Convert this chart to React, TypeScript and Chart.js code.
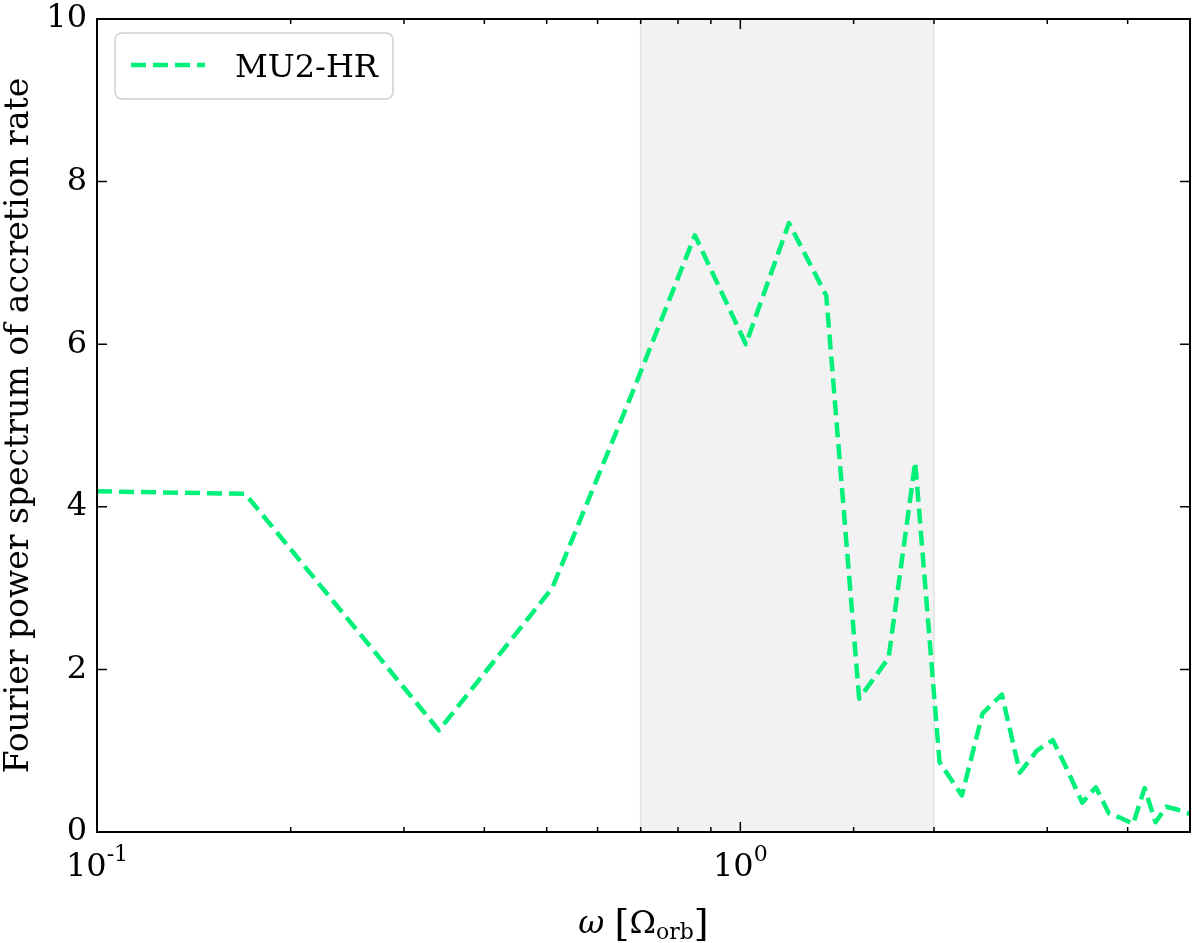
import React, { useEffect, useRef } from "react";
import { Chart, registerables } from "chart.js";

Chart.register(...registerables);

// ---- data ----
const OMEGA = [0.1, 0.17, 0.34, 0.51, 0.68, 0.85, 1.02, 1.19, 1.36, 1.53, 1.7, 1.87, 2.04, 2.21, 2.38, 2.55, 2.72, 2.89, 3.06, 3.23, 3.4, 3.57, 3.74, 3.91, 4.08, 4.25, 4.42, 4.59, 4.76, 4.93, 5.1];
const POWER = [4.19, 4.16, 1.25, 3.0, 5.41, 7.34, 6.0, 7.49, 6.6, 1.64, 2.14, 4.55, 0.86, 0.45, 1.46, 1.69, 0.73, 1.0, 1.13, 0.75, 0.36, 0.55, 0.23, 0.17, 0.1, 0.54, 0.12, 0.31, 0.28, 0.24, 0.2];
const SERIES_LABEL = "MU2-HR";
const BAND = [0.7, 2.0];
const X_MIN = 0.1;
const X_MAX = 5;
const Y_MIN = 0;
const Y_MAX = 10;
const Y_TICKS = [0, 2, 4, 6, 8, 10];
const X_LABELED = [0.1, 1];
const X_LABEL_BASE = ["10", "10"];
const X_LABEL_EXP = ["-1", "0"];
const Y_TITLE = "Fourier power spectrum of accretion rate";

const FAMILY = '"DejaVu Serif", serif';
const FS = 32;
const LINE_COLOR = "#00f07a";

const decorPlugin = {
  id: "decor",
  beforeDatasetsDraw(chart: any) {
    const { ctx, chartArea: a, scales } = chart;
    const x = scales.x;
    const x0 = x.getPixelForValue(BAND[0]);
    const x1 = x.getPixelForValue(BAND[1]);
    ctx.save();
    ctx.fillStyle = "#f2f2f2";
    ctx.fillRect(x0, a.top, x1 - x0, a.bottom - a.top);
    ctx.strokeStyle = "#e2e2e2";
    ctx.lineWidth = 1.5;
    ctx.beginPath();
    ctx.moveTo(x0, a.top);
    ctx.lineTo(x0, a.bottom);
    ctx.moveTo(x1, a.top);
    ctx.lineTo(x1, a.bottom);
    ctx.stroke();
    ctx.restore();
  },
  afterDraw(chart: any) {
    const { ctx, chartArea: a, scales } = chart;
    const x = scales.x;
    const y = scales.y;
    ctx.save();
    // ticks (inward, all sides)
    ctx.strokeStyle = "#000";
    ctx.lineWidth = 1.5;
    ctx.beginPath();
    const xt: number[] = (x.ticks || []).map((t: any) => t.value);
    xt.forEach((v) => {
      if (v < X_MIN - 1e-9 || v > X_MAX + 1e-9) return;
      const px = x.getPixelForValue(v);
      const lg = Math.log10(v);
      const major = Math.abs(lg - Math.round(lg)) < 1e-6;
      const len = major ? 10 : 5;
      ctx.moveTo(px, a.bottom);
      ctx.lineTo(px, a.bottom - len);
      ctx.moveTo(px, a.top);
      ctx.lineTo(px, a.top + len);
    });
    Y_TICKS.forEach((v) => {
      const py = y.getPixelForValue(v);
      ctx.moveTo(a.left, py);
      ctx.lineTo(a.left + 10, py);
      ctx.moveTo(a.right, py);
      ctx.lineTo(a.right - 10, py);
    });
    ctx.stroke();
    // frame
    ctx.lineWidth = 2;
    ctx.strokeRect(a.left, a.top, a.right - a.left, a.bottom - a.top);

    // x tick labels with superscripts
    ctx.fillStyle = "#000";
    ctx.textBaseline = "alphabetic";
    ctx.textAlign = "left";
    X_LABELED.forEach((v, i) => {
      const px = x.getPixelForValue(v);
      ctx.font = `${FS}px ${FAMILY}`;
      const wb = ctx.measureText(X_LABEL_BASE[i]).width;
      ctx.font = `${Math.round(FS * 0.68)}px ${FAMILY}`;
      const we = ctx.measureText(X_LABEL_EXP[i]).width;
      const start = px - (wb + we) / 2;
      ctx.font = `${FS}px ${FAMILY}`;
      ctx.fillText(X_LABEL_BASE[i], start, a.bottom + 44);
      ctx.font = `${Math.round(FS * 0.68)}px ${FAMILY}`;
      ctx.fillText(X_LABEL_EXP[i], start + wb, a.bottom + 29);
    });

    // x title: ω [Ω_orb]
    const parts = [
      { t: "ω", f: `italic ${FS}px ${FAMILY}`, dy: 0 },
      { t: " ", f: `${FS}px ${FAMILY}`, dy: 0 },
      { t: "[", f: `${FS + 6}px ${FAMILY}`, dy: 3 },
      { t: "Ω", f: `${FS}px ${FAMILY}`, dy: 0 },
      { t: "orb", f: `${Math.round(FS * 0.68)}px ${FAMILY}`, dy: 6 },
      { t: "]", f: `${FS + 6}px ${FAMILY}`, dy: 3 },
    ];
    let total = 0;
    const widths = parts.map((p) => {
      ctx.font = p.f;
      const w = ctx.measureText(p.t).width;
      total += w;
      return w;
    });
    let cx = (a.left + a.right) / 2 - total / 2;
    const base = 933;
    parts.forEach((p, i) => {
      ctx.font = p.f;
      ctx.fillText(p.t, cx, base + p.dy);
      cx += widths[i];
    });

    // legend
    const lx = 115, ly = 33, lw = 278, lh = 66;
    ctx.beginPath();
    (ctx as any).roundRect(lx, ly, lw, lh, 7);
    ctx.fillStyle = "rgba(255,255,255,0.8)";
    ctx.fill();
    ctx.strokeStyle = "#d0d0d0";
    ctx.lineWidth = 1.5;
    ctx.stroke();
    const ds = chart.data.datasets[0];
    ctx.beginPath();
    ctx.strokeStyle = ds.borderColor;
    ctx.lineWidth = ds.borderWidth;
    ctx.setLineDash(ds.borderDash);
    ctx.moveTo(131, 65);
    ctx.lineTo(205, 65);
    ctx.stroke();
    ctx.setLineDash([]);
    ctx.fillStyle = "#000";
    ctx.font = `${FS}px ${FAMILY}`;
    ctx.fillText(ds.label, 235, 77);
    ctx.restore();
  },
};

export default function App() {
  const ref = useRef<HTMLCanvasElement | null>(null);
  useEffect(() => {
    if (!ref.current) return;
    const chart = new Chart(ref.current, {
      type: "line",
      data: {
        datasets: [
          {
            label: SERIES_LABEL,
            data: OMEGA.map((v, i) => ({ x: v, y: POWER[i] })),
            borderColor: LINE_COLOR,
            borderWidth: 4.5,
            borderDash: [15, 7],
            borderCapStyle: "butt",
            borderJoinStyle: "round",
            pointRadius: 0,
            fill: false,
            tension: 0,
          },
        ],
      },
      options: {
        animation: false,
        responsive: false,
        maintainAspectRatio: false,
        layout: { padding: { left: 0, top: 19, right: 10, bottom: 0 } },
        plugins: { legend: { display: false }, tooltip: { enabled: false } },
        scales: {
          x: {
            type: "logarithmic",
            min: X_MIN,
            max: X_MAX,
            grid: { display: false, drawTicks: false },
            border: { display: false },
            ticks: { display: false },
            afterFit: (s: any) => {
              s.height = 111;
              s.paddingLeft = 0;
              s.paddingRight = 0;
            },
          },
          y: {
            type: "linear",
            min: Y_MIN,
            max: Y_MAX,
            afterBuildTicks: (s: any) => {
              s.ticks = Y_TICKS.map((v) => ({ value: v }));
            },
            grid: { display: false, drawTicks: false, tickLength: 0 },
            border: { display: false },
            ticks: {
              font: { family: FAMILY, size: FS },
              color: "#000",
              padding: 10,
            },
            title: {
              display: true,
              text: Y_TITLE,
              color: "#000",
              font: { family: FAMILY, size: 33 },
              padding: { top: 0, bottom: 0 },
            },
            afterFit: (s: any) => {
              s.width = 97;
              s.paddingTop = 0;
              s.paddingBottom = 0;
            },
          },
        },
      } as any,
      plugins: [decorPlugin],
    });
    return () => chart.destroy();
  }, []);
  return (
    <div style={{ position: "fixed", left: 0, top: 0, width: 1200, height: 943, background: "#fff" }}>
      <canvas ref={ref} width={1200} height={943} style={{ display: "block", width: 1200, height: 943 }} />
    </div>
  );
}
